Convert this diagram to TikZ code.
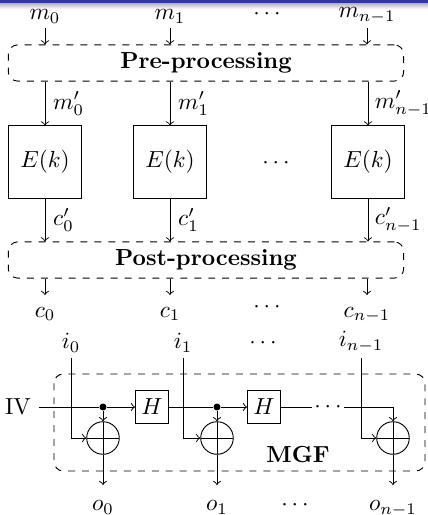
\documentclass[tikz,border=0pt]{standalone}
\definecolor{framebar}{RGB}{51,51,170}

\begin{document}
\begin{tikzpicture}[
    x=0.43pt, y=-0.43pt,
    phase/.style={draw, dashed, rounded corners=4pt, minimum width=170pt, minimum height=15.5pt, font=\bfseries},
    cipher/.style={draw, minimum width=31.4pt, minimum height=31pt},
    hash/.style={draw, minimum size=14.2pt, inner sep=0pt},
    xor/.style={draw, circle, minimum size=14pt, inner sep=0pt,
      path picture={\draw (path picture bounding box.north) -- (path picture bounding box.south)
                          (path picture bounding box.west) -- (path picture bounding box.east);}},
    junction/.style={circle, fill, minimum size=3pt, inner sep=0pt},
    inlbl/.style={anchor=south, inner sep=1.8pt},
    outlbl/.style={anchor=north, inner sep=5pt},
  ]
  \useasboundingbox (0,0) rectangle (428,515);
  \fill[framebar] (0,0) rectangle (428,3);
  \shade[top color=black!30, bottom color=white] (0,3) rectangle (428,9);

  \node[inlbl] (m0) at (45,28) {$m_0$};
  \node[inlbl] (m1) at (170,28) {$m_1$};
  \node[inner sep=1pt] (mdots) at (267,14) {$\cdots$};
  \node[inlbl] (mn) at (367,28) {$m_{n-1}$};
  \node[phase] (pre) at (206,63) {Pre-processing};

  \node[cipher] (e0) at (45,162) {$E(k)$};
  \node[cipher] (e1) at (170,162) {$E(k)$};
  \node (edots) at (276,163) {$\cdots$};
  \node[cipher] (en) at (368,162) {$E(k)$};

  \node[phase] (post) at (206,260) {Post-processing};
  \node[outlbl] (c0) at (45,295) {$c_0$};
  \node[outlbl] (c1) at (170,295) {$c_1$};
  \node (cdots) at (267,307) {$\cdots$};
  \node[outlbl] (cn) at (367,295) {$c_{n-1}$};

  \draw[->] (m0) -- (m0 |- pre.north);
  \draw[->] (m1) -- (m1 |- pre.north);
  \draw[->] (mn) -- (mn |- pre.north);
  \draw[->] (pre.south -| e0) -- node[right] {$m'_0$} (e0);
  \draw[->] (pre.south -| e1) -- node[right] {$m'_1$} (e1);
  \draw[->] (pre.south -| en) -- node[right, inner xsep=2.8pt] {$m'_{n-1}$} (en);
  \draw[->] (e0) -- node[right] {$c'_0$} (e0 |- post.north);
  \draw[->] (e1) -- node[right] {$c'_1$} (e1 |- post.north);
  \draw[->] (en) -- node[right, inner xsep=2.8pt] {$c'_{n-1}$} (en |- post.north);
  \draw[->] (post.south -| c0) -- (c0);
  \draw[->] (post.south -| c1) -- (c1);
  \draw[->] (post.south -| cn) -- (cn);

  \node[inlbl, inner sep=2.2pt] (i0) at (71,358) {$i_0$};
  \node[inlbl, inner sep=2.2pt] (i1) at (183,358) {$i_1$};
  \node (idots) at (263,343) {$\cdots$};
  \node[inlbl, inner sep=2.2pt] (in) at (361,358) {$i_{n-1}$};

  \node (iv) at (18,407) {IV};
  \node[junction] (j0) at (103,407) {};
  \node[hash] (h0) at (152,407) {$H$};
  \node[junction] (j1) at (217,407) {};
  \node[hash] (h1) at (264,407) {$H$};
  \node[inner sep=1pt] (hdots) at (328,407) {$\cdots$};
  \node[xor] (x0) at (103,438) {};
  \node[xor] (x1) at (217,438) {};
  \node[xor] (xn) at (393,438) {};

  \draw[dashed, rounded corners=4pt] (54,374) rectangle (425,471);
  \node[font=\bfseries] (mgf) at (298,455) {MGF};

  \node[outlbl, inner sep=6.6pt] (o0) at (103,485) {$o_0$};
  \node[outlbl, inner sep=6.6pt] (o1) at (217,485) {$o_1$};
  \node (odots) at (295,505) {$\cdots$};
  \node[outlbl, inner sep=6.6pt] (on) at (393,485) {$o_{n-1}$};

  \draw (iv) -- (j0);
  \draw[->] (j0) -- (h0);
  \draw[->] (j0) -- (x0);
  \draw (h0) -- (j1);
  \draw[->] (j1) -- (h1);
  \draw[->] (j1) -- (x1);
  \draw (h1) -- (hdots);
  \draw[->] (hdots) -| (xn);
  \draw[->] (i0) |- (x0);
  \draw[->] (i1) |- (x1);
  \draw[->] (in) |- (xn);
  \draw[->] (x0) -- (o0);
  \draw[->] (x1) -- (o1);
  \draw[->] (xn) -- (on);
\end{tikzpicture}
\end{document}
